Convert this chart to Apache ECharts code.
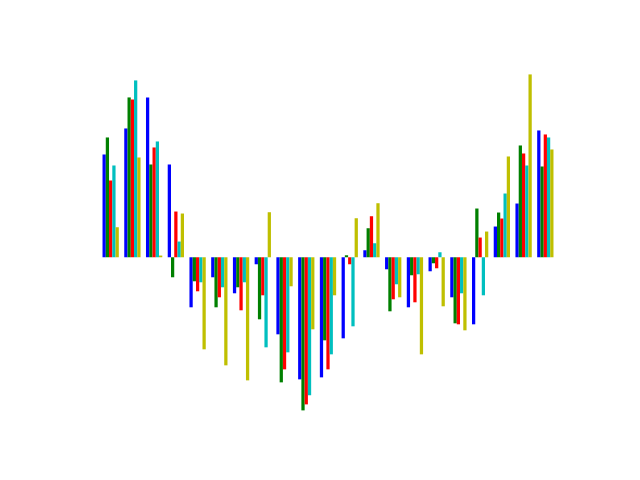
<!DOCTYPE html>
<html>
<head>
<meta charset="utf-8">
<script src="https://cdn.jsdelivr.net/npm/echarts@6/dist/echarts.min.js"></script>
<style>html,body{margin:0;padding:0;background:#fff;}#c{width:640px;height:480px;}</style>
</head>
<body>
<div id="c"></div>
<script>
var categories = ['1','2','3','4','5','6','7','8','9','10','11','12','13','14','15','16','17','18','19','20','21'];
var blueVals   = [102.7,128.7,159.7,92.7,-50,-20,-36,-7,-77,-122,-120,-81,7,-12,-50,-14,-40,-67,30.7,53.7,126.7];
var greenVals  = [119.7,159.7,92.7,-20,-24,-50,-30,-62,-125,-153,-83,2,29,-54,-18,-6,-66,48.7,44.7,111.7,90.7];
var redVals    = [76.7,157.7,109.7,45.7,-34,-40,-53,-38,-112,-147,-112,-7,41,-42,-45,-11,-67,19.7,38.7,103.7,122.7];
var cyanVals   = [91.7,176.7,115.7,15.7,-25,-30,-25,-90,-95,-138,-97,-69,14,-27,-17,5,-36,-38,63.7,91.7,119.7];
var yellowVals = [30,99.7,1.7,43.7,-92,-108,-123,45,-29,-72,-38,39,54,-40,-97,-49,-73,25.7,100.7,182.7,107.7];

var colors = ['#0000ff','#008000','#ff0000','#00bfbf','#bfbf00'];
var seriesData = [blueVals, greenVals, redVals, cyanVals, yellowVals];

var chart = echarts.init(document.getElementById('c'), null, {renderer:'canvas'});
chart.setOption({
  animation: false,
  backgroundColor: '#ffffff',
  grid: {left: 99.8, width: 456.4, top: 57.6, height: 369.6, containLabel: false},
  xAxis: {type: 'category', data: categories, show: false},
  yAxis: {type: 'value', min: -169.8, max: 199.5, show: false, splitLine: {show: false}},
  series: seriesData.map(function(d, i){
    return {
      type: 'bar',
      data: d,
      barWidth: 3.26,
      barGap: '0%',
      itemStyle: {color: colors[i]},
      emphasis: {disabled: true}
    };
  })
});
</script>
</body>
</html>
